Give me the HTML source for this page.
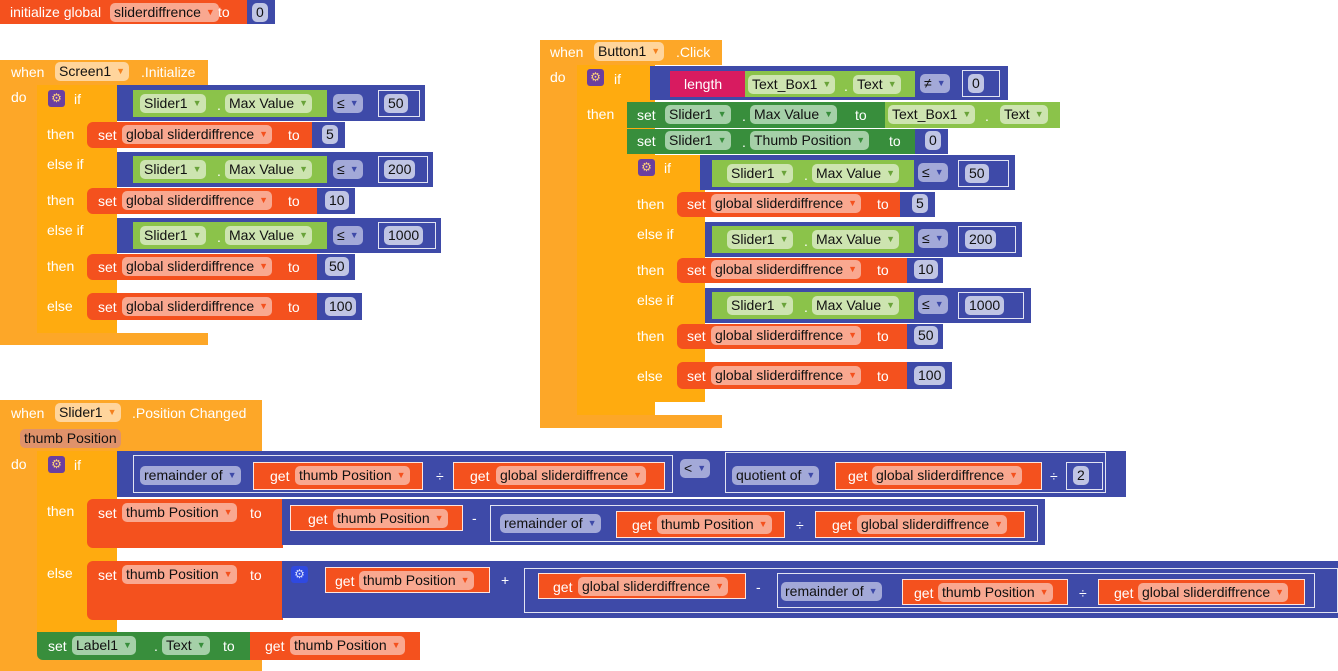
<!DOCTYPE html>
<html><head><meta charset="utf-8"><style>
body{margin:0;width:1338px;height:671px;background:#fff;position:relative;overflow:hidden;font-family:"Liberation Sans",sans-serif}
div,span{position:absolute;box-sizing:border-box}
.w{color:#fff;font-size:14px;line-height:16px;white-space:nowrap}
.p{height:19px;line-height:19px;border-radius:5px;padding:0 4px;color:#111;font-size:14px;white-space:nowrap}
.p i{font-style:normal;font-size:9px;margin-left:5px;vertical-align:2px}
.ev{background:#FDA728}.if{background:#FFAB0F}.rd{background:#F4511E}.bl{background:#3E4AA8}
.lg{background:#8BC34A}.dg{background:#388E3C}.pk{background:#D81B60}
.pr{background:#F9A890}.pr i{color:#F4511E}
.pg{background:#CDE4B0}.pg i{color:#6aa33a}
.pd{background:#A5D0A8}.pd i{color:#388E3C}
.pb{background:#A3A9D8}.pb i{color:#3E4AA8}
.pn{background:#C0C5E4}
.po{background:#FFD59C}.po i{color:#F4811E}
.ol{border:1px solid rgba(255,255,255,.85)}
.gear{width:17px;height:17px;border-radius:3px;background:#6A3FA0;color:#FFD27A;font-size:12px;line-height:17px;text-align:center}
</style></head><body>

<!-- init global -->
<div class="rd" style="left:0;top:0;width:248px;height:24px"></div>
<div class="bl" style="top:0;width:28px;height:24px;left:247px"></div>
<span class="w" style="left:10px;top:4px">initialize global</span>
<span class="p pr" style="left:110px;top:3px">sliderdiffrence<i>▼</i></span>
<span class="w" style="left:218px;top:4px">to</span>
<span class="p pn" style="left:252px;top:3px">0</span>

<!-- Screen1 Initialize -->
<div class="ev" style="left:0;top:60px;width:208px;height:25px"></div>
<div class="ev" style="left:0;top:60px;width:37px;height:285px"></div>
<div class="ev" style="left:0;top:333px;width:208px;height:12px"></div>
<span class="w" style="left:11px;top:64px">when</span>
<span class="p po" style="left:55px;top:62px">Screen1<i>▼</i></span>
<span class="w" style="left:141px;top:64px">.Initialize</span>
<span class="w" style="left:11px;top:89px">do</span>
<div class="if" style="left:37px;top:85px;width:80px;height:248px"></div>
<div class="gear" style="left:48px;top:90px">⚙</div>
<span class="w" style="left:74px;top:91px">if</span>
<span class="w" style="left:47px;top:126px">then</span>
<span class="w" style="left:47px;top:156px">else if</span>
<span class="w" style="left:47px;top:192px">then</span>
<span class="w" style="left:47px;top:222px">else if</span>
<span class="w" style="left:47px;top:258px">then</span>
<span class="w" style="left:47px;top:298px">else</span>

<div class="bl" style="left:117px;top:85px;width:308px;height:36px"></div>
<div class="lg" style="left:133px;top:90px;width:194px;height:27px"></div>
<span class="p pg" style="left:140px;top:94px">Slider1<i>▼</i></span><span class="w" style="left:217px;top:97px">.</span>
<span class="p pg" style="left:225px;top:94px">Max Value<i>▼</i></span>
<span class="p pb" style="left:333px;top:94px">≤<i>▼</i></span>
<div class="ol" style="left:378px;top:90px;width:42px;height:27px"></div><span class="p pn" style="left:384px;top:94px">50</span>

<div class="rd" style="left:87px;top:122px;width:226px;height:26px;border-radius:6px 0 0 6px"></div>
<div class="bl" style="left:312px;top:122px;width:33px;height:26px"></div>
<span class="w" style="left:98px;top:127px">set</span><span class="p pr" style="left:122px;top:125px">global sliderdiffrence<i>▼</i></span><span class="w" style="left:288px;top:127px">to</span><span class="p pn" style="left:322px;top:125px">5</span>

<div class="bl" style="left:117px;top:152px;width:316px;height:35px"></div>
<div class="lg" style="left:133px;top:156px;width:194px;height:27px"></div>
<span class="p pg" style="left:140px;top:160px">Slider1<i>▼</i></span><span class="w" style="left:217px;top:163px">.</span>
<span class="p pg" style="left:225px;top:160px">Max Value<i>▼</i></span>
<span class="p pb" style="left:333px;top:160px">≤<i>▼</i></span>
<div class="ol" style="left:378px;top:156px;width:50px;height:27px"></div><span class="p pn" style="left:384px;top:160px">200</span>

<div class="rd" style="left:87px;top:188px;width:231px;height:26px;border-radius:6px 0 0 6px"></div>
<div class="bl" style="left:317px;top:188px;width:38px;height:26px"></div>
<span class="w" style="left:98px;top:193px">set</span><span class="p pr" style="left:122px;top:191px">global sliderdiffrence<i>▼</i></span><span class="w" style="left:288px;top:193px">to</span><span class="p pn" style="left:325px;top:191px">10</span>

<div class="bl" style="left:117px;top:218px;width:324px;height:35px"></div>
<div class="lg" style="left:133px;top:222px;width:194px;height:27px"></div>
<span class="p pg" style="left:140px;top:226px">Slider1<i>▼</i></span><span class="w" style="left:217px;top:229px">.</span>
<span class="p pg" style="left:225px;top:226px">Max Value<i>▼</i></span>
<span class="p pb" style="left:333px;top:226px">≤<i>▼</i></span>
<div class="ol" style="left:378px;top:222px;width:58px;height:27px"></div><span class="p pn" style="left:384px;top:226px">1000</span>

<div class="rd" style="left:87px;top:254px;width:231px;height:26px;border-radius:6px 0 0 6px"></div>
<div class="bl" style="left:317px;top:254px;width:38px;height:26px"></div>
<span class="w" style="left:98px;top:259px">set</span><span class="p pr" style="left:122px;top:257px">global sliderdiffrence<i>▼</i></span><span class="w" style="left:288px;top:259px">to</span><span class="p pn" style="left:325px;top:257px">50</span>

<div class="rd" style="left:87px;top:293px;width:231px;height:27px;border-radius:6px 0 0 6px"></div>
<div class="bl" style="left:317px;top:293px;width:45px;height:27px"></div>
<span class="w" style="left:98px;top:299px">set</span><span class="p pr" style="left:122px;top:297px">global sliderdiffrence<i>▼</i></span><span class="w" style="left:288px;top:299px">to</span><span class="p pn" style="left:325px;top:297px">100</span>

<!-- Button1 Click -->
<div class="ev" style="left:540px;top:40px;width:182px;height:25px"></div>
<div class="ev" style="left:540px;top:40px;width:37px;height:388px"></div>
<div class="ev" style="left:540px;top:415px;width:182px;height:13px"></div>
<span class="w" style="left:550px;top:44px">when</span>
<span class="p po" style="left:594px;top:42px">Button1<i>▼</i></span>
<span class="w" style="left:676px;top:44px">.Click</span>
<span class="w" style="left:550px;top:69px">do</span>
<div class="if" style="left:577px;top:65px;width:78px;height:350px"></div>
<div class="gear" style="left:587px;top:69px">⚙</div>
<span class="w" style="left:614px;top:71px">if</span>
<span class="w" style="left:587px;top:106px">then</span>
<div class="bl" style="left:650px;top:66px;width:358px;height:34px"></div>
<div class="pk" style="left:670px;top:71px;width:76px;height:26px"></div>
<span class="w" style="left:684px;top:76px">length</span>
<div class="lg" style="left:745px;top:71px;width:170px;height:26px"></div>
<span class="p pg" style="left:748px;top:75px">Text_Box1<i>▼</i></span><span class="w" style="left:844px;top:78px">.</span>
<span class="p pg" style="left:853px;top:75px">Text<i>▼</i></span>
<span class="p pb" style="left:920px;top:74px">≠<i>▼</i></span>
<div class="ol" style="left:962px;top:70px;width:38px;height:27px"></div><span class="p pn" style="left:968px;top:74px">0</span>

<div class="dg" style="left:627px;top:102px;width:260px;height:26px"></div>
<div class="lg" style="left:885px;top:102px;width:175px;height:26px"></div>
<span class="w" style="left:637px;top:107px">set</span><span class="p pd" style="left:665px;top:105px">Slider1<i>▼</i></span><span class="w" style="left:742px;top:108px">.</span>
<span class="p pd" style="left:750px;top:105px">Max Value<i>▼</i></span><span class="w" style="left:855px;top:107px">to</span>
<span class="p pg" style="left:888px;top:105px">Text_Box1<i>▼</i></span><span class="w" style="left:985px;top:108px">.</span><span class="p pg" style="left:1000px;top:105px">Text<i>▼</i></span>

<div class="dg" style="left:627px;top:129px;width:290px;height:25px"></div>
<div class="bl" style="left:915px;top:129px;width:33px;height:25px"></div>
<span class="w" style="left:637px;top:133px">set</span><span class="p pd" style="left:665px;top:131px">Slider1<i>▼</i></span><span class="w" style="left:742px;top:134px">.</span>
<span class="p pd" style="left:750px;top:131px">Thumb Position<i>▼</i></span><span class="w" style="left:889px;top:133px">to</span><span class="p pn" style="left:925px;top:131px">0</span>

<div class="if" style="left:627px;top:155px;width:78px;height:247px"></div>
<div class="gear" style="left:638px;top:159px">⚙</div>
<span class="w" style="left:664px;top:160px">if</span>
<span class="w" style="left:637px;top:196px">then</span>
<span class="w" style="left:637px;top:226px">else if</span>
<span class="w" style="left:637px;top:262px">then</span>
<span class="w" style="left:637px;top:292px">else if</span>
<span class="w" style="left:637px;top:328px">then</span>
<span class="w" style="left:637px;top:368px">else</span>

<div class="bl" style="left:700px;top:155px;width:315px;height:35px"></div>
<div class="lg" style="left:712px;top:160px;width:202px;height:27px"></div>
<span class="p pg" style="left:727px;top:164px">Slider1<i>▼</i></span><span class="w" style="left:804px;top:167px">.</span>
<span class="p pg" style="left:812px;top:164px">Max Value<i>▼</i></span>
<span class="p pb" style="left:918px;top:163px">≤<i>▼</i></span>
<div class="ol" style="left:958px;top:160px;width:51px;height:27px"></div><span class="p pn" style="left:965px;top:164px">50</span>

<div class="rd" style="left:677px;top:192px;width:224px;height:25px;border-radius:6px 0 0 6px"></div>
<div class="bl" style="left:900px;top:192px;width:35px;height:25px"></div>
<span class="w" style="left:687px;top:196px">set</span><span class="p pr" style="left:711px;top:194px">global sliderdiffrence<i>▼</i></span><span class="w" style="left:877px;top:196px">to</span><span class="p pn" style="left:912px;top:194px">5</span>

<div class="bl" style="left:705px;top:222px;width:317px;height:35px"></div>
<div class="lg" style="left:712px;top:226px;width:202px;height:27px"></div>
<span class="p pg" style="left:727px;top:230px">Slider1<i>▼</i></span><span class="w" style="left:804px;top:233px">.</span>
<span class="p pg" style="left:812px;top:230px">Max Value<i>▼</i></span>
<span class="p pb" style="left:918px;top:229px">≤<i>▼</i></span>
<div class="ol" style="left:958px;top:226px;width:58px;height:27px"></div><span class="p pn" style="left:965px;top:230px">200</span>

<div class="rd" style="left:677px;top:258px;width:231px;height:25px;border-radius:6px 0 0 6px"></div>
<div class="bl" style="left:907px;top:258px;width:36px;height:25px"></div>
<span class="w" style="left:687px;top:262px">set</span><span class="p pr" style="left:711px;top:260px">global sliderdiffrence<i>▼</i></span><span class="w" style="left:877px;top:262px">to</span><span class="p pn" style="left:914px;top:260px">10</span>

<div class="bl" style="left:705px;top:288px;width:326px;height:35px"></div>
<div class="lg" style="left:712px;top:292px;width:202px;height:27px"></div>
<span class="p pg" style="left:727px;top:296px">Slider1<i>▼</i></span><span class="w" style="left:804px;top:299px">.</span>
<span class="p pg" style="left:812px;top:296px">Max Value<i>▼</i></span>
<span class="p pb" style="left:918px;top:295px">≤<i>▼</i></span>
<div class="ol" style="left:958px;top:292px;width:66px;height:27px"></div><span class="p pn" style="left:965px;top:296px">1000</span>

<div class="rd" style="left:677px;top:324px;width:231px;height:25px;border-radius:6px 0 0 6px"></div>
<div class="bl" style="left:907px;top:324px;width:36px;height:25px"></div>
<span class="w" style="left:687px;top:328px">set</span><span class="p pr" style="left:711px;top:326px">global sliderdiffrence<i>▼</i></span><span class="w" style="left:877px;top:328px">to</span><span class="p pn" style="left:914px;top:326px">50</span>

<div class="rd" style="left:677px;top:362px;width:231px;height:27px;border-radius:6px 0 0 6px"></div>
<div class="bl" style="left:907px;top:362px;width:45px;height:27px"></div>
<span class="w" style="left:687px;top:368px">set</span><span class="p pr" style="left:711px;top:366px">global sliderdiffrence<i>▼</i></span><span class="w" style="left:877px;top:368px">to</span><span class="p pn" style="left:914px;top:366px">100</span>

<!-- Slider PositionChanged -->
<div class="ev" style="left:0;top:400px;width:262px;height:51px"></div>
<div class="ev" style="left:0;top:400px;width:37px;height:271px"></div>
<div class="ev" style="left:0;top:655px;width:262px;height:16px"></div>
<span class="w" style="left:11px;top:405px">when</span>
<span class="p po" style="left:55px;top:403px">Slider1<i>▼</i></span>
<span class="w" style="left:132px;top:405px">.Position Changed</span>
<span class="p" style="left:20px;top:429px;background:#E0926A">thumb Position</span>
<span class="w" style="left:11px;top:456px">do</span>
<div class="if" style="left:37px;top:451px;width:80px;height:182px"></div>
<div class="gear" style="left:48px;top:456px">⚙</div>
<span class="w" style="left:74px;top:457px">if</span>
<span class="w" style="left:47px;top:503px">then</span>
<span class="w" style="left:47px;top:565px">else</span>

<div class="bl" style="left:117px;top:451px;width:1009px;height:46px"></div>
<div class="ol" style="left:133px;top:455px;width:540px;height:38px"></div>
<span class="p pb" style="left:140px;top:466px">remainder of<i>▼</i></span>
<div class="rd ol" style="left:253px;top:462px;width:170px;height:28px"></div>
<span class="w" style="left:270px;top:468px">get</span><span class="p pr" style="left:295px;top:466px">thumb Position<i>▼</i></span>
<span class="w" style="left:436px;top:468px">÷</span>
<div class="rd ol" style="left:453px;top:462px;width:212px;height:28px"></div>
<span class="w" style="left:470px;top:468px">get</span><span class="p pr" style="left:496px;top:466px">global sliderdiffrence<i>▼</i></span>
<span class="p pb" style="left:680px;top:459px">&lt;<i>▼</i></span>
<div class="ol" style="left:725px;top:452px;width:381px;height:41px"></div>
<span class="p pb" style="left:732px;top:466px">quotient of<i>▼</i></span>
<div class="rd ol" style="left:835px;top:462px;width:207px;height:28px"></div>
<span class="w" style="left:848px;top:468px">get</span><span class="p pr" style="left:872px;top:466px">global sliderdiffrence<i>▼</i></span>
<span class="w" style="left:1050px;top:468px">÷</span>
<div class="ol" style="left:1066px;top:462px;width:37px;height:28px"></div><span class="p pn" style="left:1073px;top:466px">2</span>

<div class="rd" style="left:87px;top:499px;width:196px;height:49px;border-radius:6px 0 0 6px"></div>
<div class="bl" style="left:282px;top:499px;width:763px;height:46px"></div>
<span class="w" style="left:98px;top:505px">set</span><span class="p pr" style="left:122px;top:503px">thumb Position<i>▼</i></span><span class="w" style="left:250px;top:505px">to</span>
<div class="rd ol" style="left:290px;top:505px;width:173px;height:26px"></div>
<span class="w" style="left:308px;top:511px">get</span><span class="p pr" style="left:333px;top:509px">thumb Position<i>▼</i></span>
<span class="w" style="left:472px;top:510px">-</span>
<div class="ol" style="left:490px;top:505px;width:548px;height:37px"></div>
<span class="p pb" style="left:500px;top:514px">remainder of<i>▼</i></span>
<div class="rd ol" style="left:616px;top:511px;width:169px;height:27px"></div>
<span class="w" style="left:632px;top:517px">get</span><span class="p pr" style="left:657px;top:515px">thumb Position<i>▼</i></span>
<span class="w" style="left:796px;top:517px">÷</span>
<div class="rd ol" style="left:815px;top:511px;width:210px;height:27px"></div>
<span class="w" style="left:832px;top:517px">get</span><span class="p pr" style="left:857px;top:515px">global sliderdiffrence<i>▼</i></span>

<div class="rd" style="left:87px;top:561px;width:196px;height:59px;border-radius:6px 0 0 6px"></div>
<div class="bl" style="left:282px;top:561px;width:1056px;height:57px"></div>
<span class="w" style="left:98px;top:567px">set</span><span class="p pr" style="left:122px;top:565px">thumb Position<i>▼</i></span><span class="w" style="left:250px;top:567px">to</span>
<div class="gear" style="left:291px;top:566px;background:#2F49E0;color:#D8DEFF">⚙</div>
<div class="rd ol" style="left:325px;top:567px;width:165px;height:26px"></div>
<span class="w" style="left:335px;top:573px">get</span><span class="p pr" style="left:359px;top:571px">thumb Position<i>▼</i></span>
<span class="w" style="left:501px;top:572px">+</span>
<div class="ol" style="left:524px;top:568px;width:814px;height:45px"></div>
<div class="rd ol" style="left:538px;top:573px;width:208px;height:26px"></div>
<span class="w" style="left:553px;top:579px">get</span><span class="p pr" style="left:578px;top:577px">global sliderdiffrence<i>▼</i></span>
<span class="w" style="left:756px;top:579px">-</span>
<div class="ol" style="left:777px;top:573px;width:538px;height:35px"></div>
<span class="p pb" style="left:781px;top:582px">remainder of<i>▼</i></span>
<div class="rd ol" style="left:902px;top:579px;width:166px;height:26px"></div>
<span class="w" style="left:914px;top:585px">get</span><span class="p pr" style="left:938px;top:583px">thumb Position<i>▼</i></span>
<span class="w" style="left:1079px;top:585px">÷</span>
<div class="rd ol" style="left:1098px;top:579px;width:207px;height:26px"></div>
<span class="w" style="left:1114px;top:585px">get</span><span class="p pr" style="left:1138px;top:583px">global sliderdiffrence<i>▼</i></span>

<div class="dg" style="left:37px;top:632px;width:214px;height:28px;border-radius:0 0 0 6px"></div>
<div class="rd" style="left:250px;top:632px;width:170px;height:28px"></div>
<span class="w" style="left:48px;top:638px">set</span><span class="p pd" style="left:72px;top:636px">Label1<i>▼</i></span><span class="w" style="left:154px;top:638px">.</span>
<span class="p pd" style="left:162px;top:636px">Text<i>▼</i></span><span class="w" style="left:223px;top:638px">to</span>
<span class="w" style="left:265px;top:638px">get</span><span class="p pr" style="left:290px;top:636px">thumb Position<i>▼</i></span>
</body></html>
